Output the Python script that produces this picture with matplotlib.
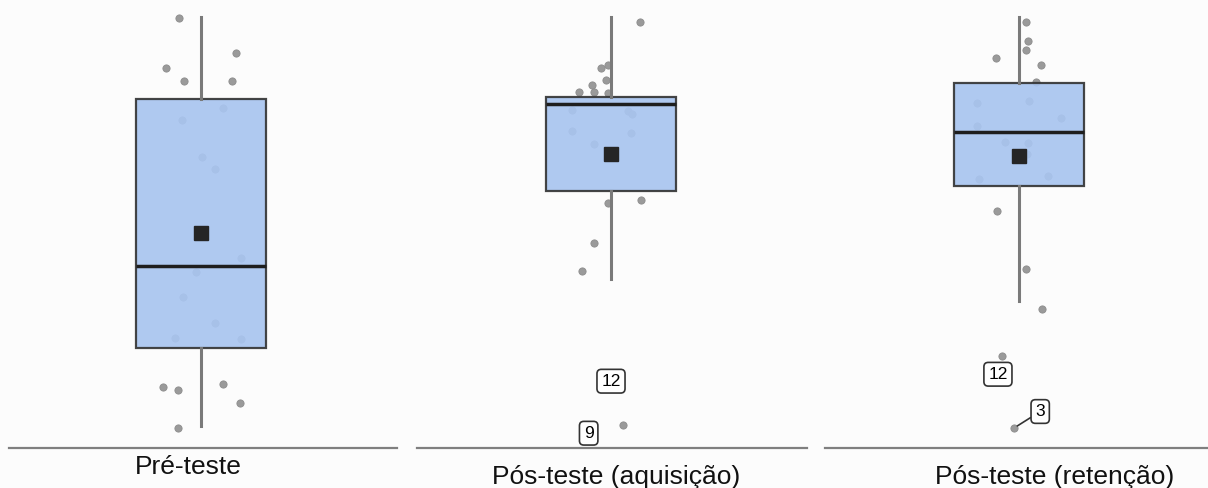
import matplotlib.pyplot as plt

# grupos / rótulos
grupos = ['Pré-teste', 'Pós-teste (aquisição)', 'Pós-teste (retenção)']

# estatísticas do boxplot (escala 0-100)
q1 = [23.2, 59.6, 60.8]
mediana = [42.2, 79.8, 73.3]
q3 = [81.0, 81.4, 84.7]
whis_lo = [5.1, 39.2, 34.1]
whis_hi = [100.0, 100.0, 100.0]
media = [49.9, 68.2, 67.7]

# pontos individuais (valor, deslocamento horizontal do jitter)
pre_val = [99.8, 91.6, 88.2, 85.2, 85.2, 78.9, 76.1, 67.5, 64.7, 44.1,
           40.8, 35.0, 29.0, 25.5, 25.3, 14.8, 14.2, 13.5, 10.4, 4.6]
pre_jit = [-0.17, 0.27, -0.27, -0.13, 0.24, 0.17, -0.15, 0.01, 0.11, 0.31,
           -0.04, -0.14, 0.11, -0.20, 0.31, 0.17, -0.29, -0.18, 0.30, -0.18]

aq_val = [98.8, 88.2, 88.9, 84.2, 85.4, 82.6, 82.6, 82.4, 78.4, 78.2,
          77.5, 73.6, 73.1, 70.5, 56.8, 57.5, 47.6, 41.1, 15.5, 5.3]
aq_jit = [0.22, -0.08, -0.02, -0.15, -0.04, -0.25, -0.13, -0.02, -0.30, 0.13,
          0.16, -0.30, 0.15, -0.13, -0.02, 0.23, -0.13, -0.22, 0.0, 0.09]

ret_val = [98.8, 94.4, 92.3, 90.5, 88.9, 84.9, 80.0, 80.5, 76.6, 74.7,
           71.0, 70.8, 68.2, 62.4, 63.1, 55.0, 41.5, 32.3, 21.3, 4.6]
ret_jit = [0.05, 0.07, 0.05, -0.18, 0.17, 0.13, -0.32, 0.08, 0.32, -0.32,
           -0.11, 0.07, 0.06, -0.31, 0.22, -0.17, 0.05, 0.18, -0.13, -0.04]

valores = [pre_val, aq_val, ret_val]
jitters = [pre_jit, aq_jit, ret_jit]

# outliers rotulados: (painel, índice do ponto, texto, deslocamento em pt, segmento)
rotulos = [(1, 18, '12', (0, 0), False),
           (1, 19, '9', (-24.5, -5.8), False),
           (2, 18, '12', (-3, -13), False),
           (2, 19, '3', (19, 12), True)]

# posição dos painéis em pixels (esquerda, direita, centro da caixa)
paineis = [(9, 397, 201), (417, 807, 611), (825, 1208, 1019)]
texto_x = [188, 616, 1055]
texto_base = [474, 484, 484]

W, H = 1208, 488
fig = plt.figure(figsize=(W / 100, H / 100), dpi=100)
fig.patch.set_facecolor('#fcfcfc')

escala = 130.0  # pixels por unidade de x (largura da caixa)
y_top = 448 / 4.31

axes = []
for i, (l, r, c) in enumerate(paineis):
    ax = fig.add_axes([l / W, (H - 448) / H, (r - l) / W, 448 / H])
    ax.set_facecolor('none')
    ax.set_xlim((l - c) / escala, (r - c) / escala)
    ax.set_ylim(0, y_top)

    ax.plot(jitters[i], valores[i], 'o', color='#9a9a9a', markersize=5.2,
            markeredgecolor='#8c8c8c', markeredgewidth=0.6, zorder=1,
            linestyle='none')

    stats = [dict(q1=q1[i], med=mediana[i], q3=q3[i], whislo=whis_lo[i],
                  whishi=whis_hi[i], mean=media[i], fliers=[])]
    ax.bxp(stats, positions=[0], widths=[1.0], patch_artist=True,
           showcaps=False, showfliers=False, showmeans=True,
           boxprops=dict(facecolor='#a9c5f0', edgecolor='#353535',
                         linewidth=1.6, alpha=0.92, zorder=2),
           whiskerprops=dict(color='#7a7a7a', linewidth=2.2, zorder=2),
           medianprops=dict(color='#1e1e1e', linewidth=2.5, zorder=3),
           meanprops=dict(marker='s', markerfacecolor='#252525',
                          markeredgecolor='#252525', markersize=10, zorder=4))

    for s in ['top', 'left', 'right']:
        ax.spines[s].set_visible(False)
    ax.spines['bottom'].set_color('#7f7f7f')
    ax.spines['bottom'].set_linewidth(1.6)
    ax.set_xticks([])
    ax.set_yticks([])
    axes.append(ax)

    fig.text(texto_x[i] / W, 1 - texto_base[i] / H, grupos[i],
             ha='center', va='baseline', fontsize=19,
             family='Liberation Sans', color='#111111')

for painel, idx, txt, off, seta in rotulos:
    ax = axes[painel]
    ax.annotate(txt, (jitters[painel][idx], valores[painel][idx]),
                xytext=off, textcoords='offset points',
                ha='center', va='center', fontsize=12.5,
                family='Liberation Sans', zorder=6,
                bbox=dict(boxstyle='round,pad=0.25', facecolor='white',
                          edgecolor='#333333', linewidth=1.2),
                arrowprops=dict(arrowstyle='-', color='#333333', lw=1.2,
                                shrinkA=0, shrinkB=3) if seta else None)

fig.savefig('out.png', dpi=100, facecolor=fig.get_facecolor())
